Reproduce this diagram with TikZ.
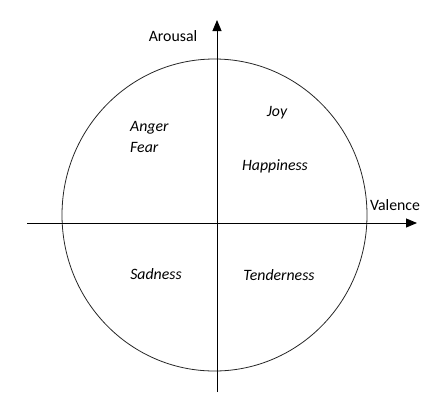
\documentclass[tikz,border=0pt]{standalone}
\usepackage{fontspec}
\setmainfont{Carlito}
\usetikzlibrary{arrows.meta}
\begin{document}
\begin{tikzpicture}[x=1pt,y=-1pt,
  axis/.style={line width=0.9pt,-{Triangle[length=11pt,width=9pt]}},
  lbl/.style={font=\fontsize{15.8}{17}\selectfont,inner sep=0pt},
  emo/.style={font=\fontsize{15.8}{17}\selectfont\itshape,inner sep=0pt}]
\useasboundingbox (0,0) rectangle (443,407);
\draw[line width=0.8pt,black!85] (214.5,215) ellipse [x radius=152.5, y radius=156];
\coordinate (xs) at (27,223);
\coordinate (xe) at (417,223);
\coordinate (ys) at (217,392);
\coordinate (ye) at (217,20);
\draw[axis] (xs) -- (xe);
\draw[axis] (ys) -- (ye);
\node[lbl] (ar) at (173,36) {Arousal};
\node[lbl] (va) at (395,205) {Valence};
\node[emo,anchor=west] (an) at (130,128) {Anger};
\node[emo,anchor=west] (fe) at (130,147) {Fear};
\node[emo] (jo) at (277,113) {Joy};
\node[emo] (ha) at (275,166) {Happiness};
\node[emo] (sa) at (156,274) {Sadness};
\node[emo] (te) at (279,275) {Tenderness};
\end{tikzpicture}
\end{document}
